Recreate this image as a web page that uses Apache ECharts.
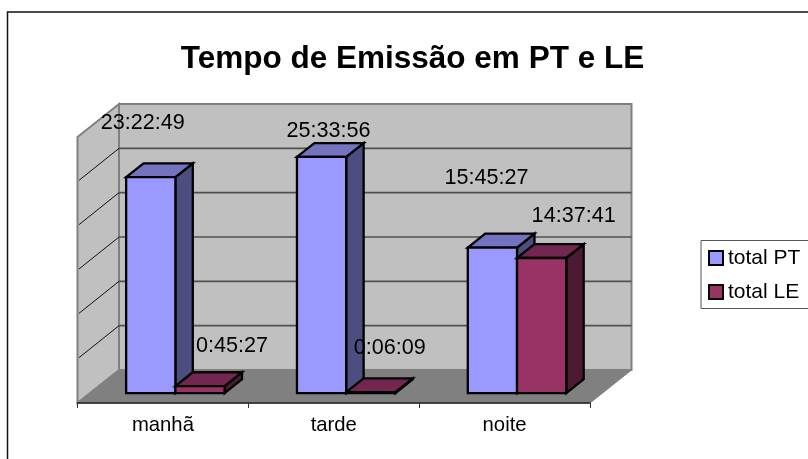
<!DOCTYPE html>
<html>
<head>
<meta charset="utf-8">
<style>html,body{margin:0;padding:0;background:#fff}#c{width:808px;height:459px}</style>
<script src="https://cdn.jsdelivr.net/npm/echarts@6/dist/echarts.min.js"></script>
</head>
<body>
<div id="c"></div>
<script>
const categories = ['manhã', 'tarde', 'noite'];
const totalPT = ['23:22:49', '25:33:56', '15:45:27'];
const totalLE = ['0:45:27', '0:06:09', '14:37:41'];
const valueTicks = [0, 4.8, 9.6, 14.4, 19.2, 24, 28.8];

const hours = s => { const p = s.split(':').map(Number); return p[0] + p[1] / 60 + p[2] / 3600; };

// projection of the fake 3D box, in pixels
const DEPTH = [41.5, -33];
const BAR_NEAR = 0.3, BAR_FAR = 0.72;
const BAR_SHARE = 1 / 3.47;
const EDGE = 2.3;
const FONT = '"Liberation Sans", Arial, sans-serif';
// where each value label sits, relative to the top of its bar's front face
const labelShift = {
  PT: [[-8, -54], [7, -26], [-6, -70]],
  LE: [[32, -40], [19, -44], [32, -42]]
};

const off = (p, k) => [p[0] + DEPTH[0] * k, p[1] + DEPTH[1] * k];
const poly = (points, fill, stroke, w) => ({
  type: 'polygon', shape: { points },
  style: { fill, stroke: stroke || 'none', lineWidth: w || 0, lineJoin: 'miter' }
});
const line = (a, b, stroke, w) => ({
  type: 'line', shape: { x1: a[0], y1: a[1], x2: b[0], y2: b[1] },
  style: { stroke, lineWidth: w }
});

function renderWalls(params, api) {
  const half = api.size([1, 0])[0] / 2;
  const lastCat = categories.length - 1;
  const at = (side, v) => {
    const p = api.coord([side ? lastCat : 0, v]);
    return [p[0] + (side ? half : -half), p[1]];
  };
  const top = valueTicks[valueTicks.length - 1];
  const p00 = at(0, 0), p10 = at(1, 0), p01 = at(0, top), p11 = at(1, top);
  const kids = [
    poly([p01, off(p01, 1), off(p00, 1), p00], '#c0c0c0', '#808080', 2),
    poly([off(p01, 1), off(p11, 1), off(p10, 1), off(p00, 1)], '#c0c0c0', '#808080', 2),
    poly([p00, p10, off(p10, 1), off(p00, 1)], '#808080', '#808080', 1)
  ];
  valueTicks.slice(1, -1).forEach(v => {
    const a = at(0, v), b = at(1, v);
    kids.push(line([a[0] + 1.5, a[1] - 1], off(a, 1), '#111', 1));
    kids.push(line(off(a, 1), off(b, 1), '#505050', 1.6));
  });
  return { type: 'group', children: kids };
}

const barRenderer = (side, colors) => (params, api) => {
  const c = api.coord([api.value(0), api.value(1)]);
  const base = api.coord([api.value(0), 0]);
  const w = api.size([1, 0])[0] * BAR_SHARE;
  const xL = c[0] + (side < 0 ? -w : 0), xR = xL + w;
  const depth = BAR_FAR - BAR_NEAR;
  const a = off([xL, c[1]], BAR_NEAR), b = off([xR, c[1]], BAR_NEAR);
  const d = off([xR, base[1]], BAR_NEAR), e = off([xL, base[1]], BAR_NEAR);
  return { type: 'group', children: [
    poly([b, off(b, depth), off(d, depth), d], colors[1], '#000', EDGE),
    poly([a, off(a, depth), off(b, depth), b], colors[2], '#000', EDGE),
    poly([a, b, d, e], colors[0], '#000', EDGE)
  ] };
};

const labelRenderer = (key, side, names) => (params, api) => {
  const c = api.coord([api.value(0), api.value(1)]);
  const w = api.size([1, 0])[0] * BAR_SHARE;
  const front = off([c[0] + side * w / 2, c[1]], BAR_NEAR);
  const s = labelShift[key][params.dataIndex];
  return {
    type: 'text',
    style: {
      text: names[params.dataIndex], x: front[0] + s[0], y: front[1] + s[1],
      align: 'center', verticalAlign: 'middle', fill: '#000', font: '21.6px ' + FONT
    }
  };
};

const row = arr => arr.map((t, i) => [i, hours(t)]);
const chart = echarts.init(document.getElementById('c'), null, { renderer: 'canvas' });
chart.setOption({
  animation: false,
  backgroundColor: '#fff',
  title: {
    text: 'Tempo de Emissão em PT e LE', left: 407.5, top: 38, textAlign: 'center',
    textStyle: { fontFamily: FONT, fontWeight: 'bold', fontSize: 31.5, color: '#000' }
  },
  legend: {
    left: 701, top: 240.5, orient: 'vertical', itemGap: 13, itemWidth: 14, itemHeight: 14,
    padding: [7, 40, 6, 7], borderColor: '#555', borderWidth: 1, backgroundColor: '#fff',
    icon: 'rect', selectedMode: false,
    textStyle: { fontFamily: FONT, fontSize: 21, color: '#000', lineHeight: 21 },
    data: [
      { name: 'total PT', itemStyle: { color: '#9999ff', borderColor: '#000', borderWidth: 2 } },
      { name: 'total LE', itemStyle: { color: '#993366', borderColor: '#000', borderWidth: 2 } }
    ]
  },
  grid: { left: 77.5, top: 137, width: 512.5, height: 266 },
  xAxis: {
    type: 'category', data: categories, z: 5,
    axisLine: { lineStyle: { color: '#222', width: 1.6 } },
    axisTick: { show: true, alignWithLabel: false, length: 5, lineStyle: { color: '#333' } },
    axisLabel: { fontFamily: FONT, fontSize: 20.3, color: '#000', margin: 12 }
  },
  yAxis: {
    type: 'value', min: 0, max: 28.8, interval: 4.8,
    axisLine: { show: false }, axisTick: { show: false }, axisLabel: { show: false }, splitLine: { show: false }
  },
  series: [
    { type: 'custom', name: 'walls', silent: true, z: 1, clip: false, renderItem: renderWalls, data: [[0, 0]], encode: { x: 0, y: 1 } },
    { type: 'custom', name: 'total PT', silent: true, z: 2, clip: false, itemStyle: { color: '#9999ff' },
      renderItem: barRenderer(-1, ['#9999ff', '#4d4d80', '#7373bf']), data: row(totalPT), encode: { x: 0, y: 1 } },
    { type: 'custom', name: 'total LE', silent: true, z: 3, clip: false, itemStyle: { color: '#993366' },
      renderItem: barRenderer(1, ['#993366', '#4d1a33', '#732650']), data: row(totalLE), encode: { x: 0, y: 1 } },
    { type: 'custom', name: 'labels PT', silent: true, z: 6, clip: false,
      renderItem: labelRenderer('PT', -1, totalPT), data: row(totalPT), encode: { x: 0, y: 1 } },
    { type: 'custom', name: 'labels LE', silent: true, z: 6, clip: false,
      renderItem: labelRenderer('LE', 1, totalLE), data: row(totalLE), encode: { x: 0, y: 1 } }
  ],
  graphic: [
    { type: 'polyline', silent: true, z: 0,
      shape: { points: [[7.5, 459], [7.5, 12], [808, 12]] },
      style: { stroke: '#111', lineWidth: 1.5, fill: 'none' } }
  ]
});
</script>
</body>
</html>
